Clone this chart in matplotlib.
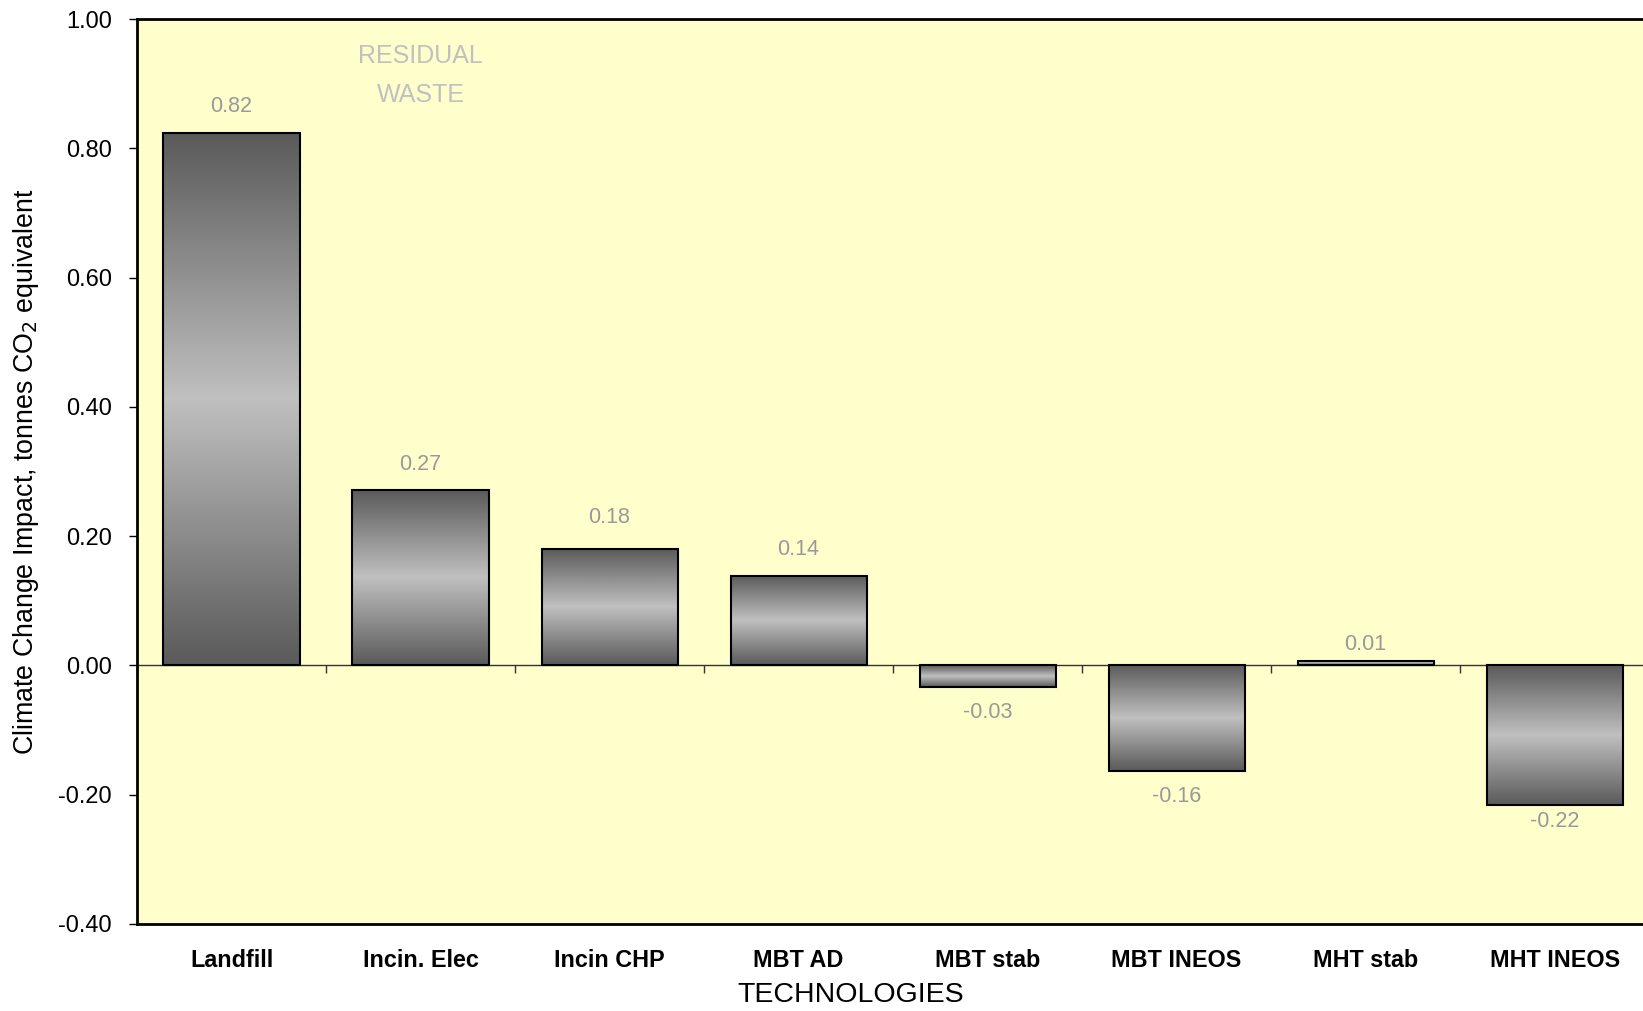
import numpy as np
import matplotlib
matplotlib.use("Agg")
import matplotlib.pyplot as plt
from matplotlib.colors import LinearSegmentedColormap

plt.rcParams['font.family'] = ['Liberation Sans', 'DejaVu Sans']

# Climate change impact per tonne of residual waste, by technology
technologies = ['Landfill', 'Incin. Elec', 'Incin CHP', 'MBT AD',
                'MBT stab', 'MBT INEOS', 'MHT stab', 'MHT INEOS']
impact = [0.824, 0.272, 0.180, 0.138, -0.034, -0.164, 0.007, -0.216]
y_ticks = [-0.40, -0.20, 0.00, 0.20, 0.40, 0.60, 0.80, 1.00]

# distance of each value label from its bar end, in points
label_gap = [19, 18, 23, 19, 18, 18, 12, 12]

fig = plt.figure(figsize=(16.43, 10.11), dpi=100)
ax = fig.add_axes([0.0834, 0.0861, 0.9203, 0.8951])
ax.set_facecolor('#ffffcc')

x = np.arange(len(technologies))
bars = ax.bar(x, impact, width=0.72, facecolor='none', edgecolor='black',
              linewidth=1.5, zorder=3)

# dark-light-dark vertical shading inside each bar
shade = LinearSegmentedColormap.from_list('shade', ['#5a5a5a', '#c0c0c0'])
grad = (1 - np.abs(np.linspace(-1, 1, 256)))[:, None]
for b in bars:
    x0, y0 = b.get_x(), b.get_y()
    x1, y1 = x0 + b.get_width(), y0 + b.get_height()
    ax.imshow(grad, extent=[x0, x1, min(y0, y1), max(y0, y1)], aspect='auto',
              cmap=shade, vmin=0, vmax=1, interpolation='bilinear', zorder=2)

for xi, v, gap in zip(x, impact, label_gap):
    off = gap if v >= 0 else -gap
    ax.annotate(f"{v:.2f}", (xi, v), xytext=(0, off), textcoords='offset points',
                ha='center', va='center', fontsize=15.5, color='#999999')

ax.text(1.0, 0.912, 'RESIDUAL\nWASTE', ha='center', va='center', fontsize=18,
        color='#c0c0c0', linespacing=1.8)

ax.set_xlim(-0.5, len(technologies) - 0.5)
ax.set_ylim(-0.4, 1.0)
ax.set_yticks(y_ticks)
ax.set_yticklabels([f"{t:.2f}" for t in y_ticks])
ax.tick_params(axis='y', direction='out', length=6, width=1, pad=12,
               labelsize=17)
ax.set_xticks(x)
ax.set_xticklabels(technologies, fontweight='bold', fontsize=16.8)
ax.tick_params(axis='x', length=0, pad=18)

for side in ['left', 'bottom', 'top', 'right']:
    ax.spines[side].set_linewidth(2)

# zero line with category separators
zero = ax.secondary_xaxis(0.4 / 1.4)
zero.set_xticks(np.arange(len(technologies) + 1) - 0.5)
zero.tick_params(axis='x', direction='out', length=6, width=1,
                 color='#333333', labelbottom=False)
zero.spines['bottom'].set_linewidth(1)
zero.spines['bottom'].set_color('#333333')

ax.set_xlabel('TECHNOLOGIES', fontsize=20.5)
ax.xaxis.set_label_coords(0.472, -0.0785)
ax.xaxis.label.set_verticalalignment('center')
ax.set_ylabel('Climate Change Impact, tonnes CO$_2$ equivalent', fontsize=19.3)
ax.yaxis.set_label_coords(-0.0735, 0.5)
ax.yaxis.label.set_verticalalignment('center')

fig.savefig('out.png', dpi=100)
